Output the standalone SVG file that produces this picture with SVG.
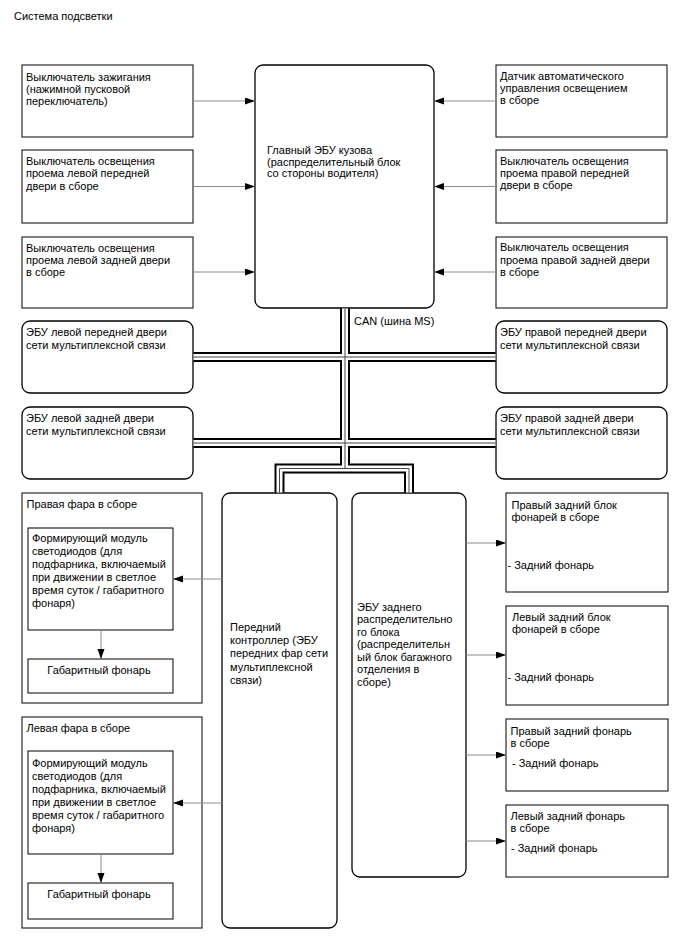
<svg xmlns="http://www.w3.org/2000/svg" width="688" height="949" viewBox="0 0 688 949">
<style>
text{font-family:"Liberation Sans",Arial,sans-serif;font-size:11px;fill:#000}
.box{fill:#fff;stroke:#000;stroke-width:1}
.rbox{fill:#fff;stroke:#000;stroke-width:1.3}
.arr{stroke:#8c8c8c;stroke-width:1;fill:none;marker-end:url(#ah)}
.bo{stroke:#000;stroke-width:10;fill:none}
.bi{stroke:#fff;stroke-width:6;fill:none}
.bc{stroke:#444;stroke-width:1;fill:none}
.c{text-anchor:middle}
</style>
<defs>
<marker id="ah" markerUnits="userSpaceOnUse" markerWidth="11" markerHeight="8" refX="10" refY="3.5" orient="auto">
<path d="M0,0 L10,3.5 L0,7 z" fill="#000"/>
</marker>
</defs>
<rect width="688" height="949" fill="#fff"/>
<text x="14" y="19.5">Система подсветки</text>

<g id="ignition-switch">
<rect class="box" x="22" y="65" width="171" height="72"/>
<text x="26" y="80.5">Выключатель зажигания</text>
<text x="26" y="92.5">(нажимной пусковой</text>
<text x="26" y="104.5">переключатель)</text>
</g>
<g id="lf-door-switch">
<rect class="box" x="22" y="150" width="171" height="73"/>
<text x="26" y="165">Выключатель освещения</text>
<text x="26" y="177.3">проема левой передней</text>
<text x="26" y="189.6">двери в сборе</text>
</g>
<g id="lr-door-switch">
<rect class="box" x="22" y="237" width="171" height="71"/>
<text x="26" y="251.5">Выключатель освещения</text>
<text x="26" y="263.8">проема левой задней двери</text>
<text x="26" y="276.1">в сборе</text>
</g>

<g id="main-body-ecu">
<rect class="rbox" x="255" y="65" width="179" height="243" rx="8"/>
<text x="267" y="154">Главный ЭБУ кузова</text>
<text x="267" y="165.7">(распределительный блок</text>
<text x="267" y="177.4">со стороны водителя)</text>
</g>

<g id="light-sensor">
<rect class="box" x="496" y="65" width="171" height="72"/>
<text x="500" y="79.7">Датчик автоматического</text>
<text x="500" y="92">управления освещением</text>
<text x="500" y="104.3">в сборе</text>
</g>
<g id="rf-door-switch">
<rect class="box" x="496" y="150" width="171" height="73"/>
<text x="500" y="164.7">Выключатель освещения</text>
<text x="500" y="177">проема правой передней</text>
<text x="500" y="189.3">двери в сборе</text>
</g>
<g id="rr-door-switch">
<rect class="box" x="496" y="237" width="171" height="71"/>
<text x="500" y="251.3">Выключатель освещения</text>
<text x="500" y="263.6">проема правой задней двери</text>
<text x="500" y="275.9">в сборе</text>
</g>

<g id="lf-door-ecu">
<rect class="rbox" x="22" y="321" width="171" height="72" rx="8"/>
<text x="26" y="335.5">ЭБУ левой передней двери</text>
<text x="26" y="348.5">сети мультиплексной связи</text>
</g>
<g id="rf-door-ecu">
<rect class="rbox" x="496" y="321" width="171" height="72" rx="8"/>
<text x="500" y="335.5">ЭБУ правой передней двери</text>
<text x="500" y="348.5">сети мультиплексной связи</text>
</g>
<g id="lr-door-ecu">
<rect class="rbox" x="22" y="407" width="171" height="72" rx="8"/>
<text x="26" y="421.5">ЭБУ левой задней двери</text>
<text x="26" y="434.5">сети мультиплексной связи</text>
</g>
<g id="rr-door-ecu">
<rect class="rbox" x="496" y="407" width="171" height="72" rx="8"/>
<text x="500" y="421.5">ЭБУ правой задней двери</text>
<text x="500" y="434.5">сети мультиплексной связи</text>
</g>

<g id="right-headlight">
<rect class="box" x="22" y="493" width="180" height="210"/>
<text x="26.5" y="508">Правая фара в сборе</text>
</g>
<g id="right-led-module">
<rect class="box" x="28" y="528" width="145" height="102"/>
<text x="32" y="542">Формирующий модуль</text>
<text x="32" y="555">светодиодов (для</text>
<text x="32" y="568">подфарника, включаемый</text>
<text x="32" y="581">при движении в светлое</text>
<text x="32" y="594">время суток / габаритного</text>
<text x="32" y="607">фонаря)</text>
</g>
<g id="right-clearance">
<rect class="box" x="28" y="659" width="145" height="34"/>
<text class="c" x="99" y="674">Габаритный фонарь</text>
</g>

<g id="left-headlight">
<rect class="box" x="22" y="717" width="180" height="211"/>
<text x="26.5" y="731.5">Левая фара в сборе</text>
</g>
<g id="left-led-module">
<rect class="box" x="28" y="751" width="145" height="103"/>
<text x="32" y="766.5">Формирующий модуль</text>
<text x="32" y="779.5">светодиодов (для</text>
<text x="32" y="792.5">подфарника, включаемый</text>
<text x="32" y="805.5">при движении в светлое</text>
<text x="32" y="818.5">время суток / габаритного</text>
<text x="32" y="831.5">фонаря)</text>
</g>
<g id="left-clearance">
<rect class="box" x="28" y="883" width="145" height="36"/>
<text class="c" x="99" y="898">Габаритный фонарь</text>
</g>

<g id="front-controller">
<rect class="rbox" x="222" y="493" width="115" height="435" rx="8"/>
<text x="230" y="630.7">Передний</text>
<text x="230" y="644">контроллер (ЭБУ</text>
<text x="230" y="657.3">передних фар сети</text>
<text x="230" y="670.6">мультиплексной</text>
<text x="230" y="683.9">связи)</text>
</g>

<g id="rear-ecu">
<rect class="rbox" x="352" y="493" width="114" height="384" rx="8"/>
<text x="357" y="610.7">ЭБУ заднего</text>
<text x="357" y="623.2">распределительно</text>
<text x="357" y="635.7">го блока</text>
<text x="357" y="648.2">(распределительн</text>
<text x="357" y="660.7">ый блок багажного</text>
<text x="357" y="673.2">отделения в</text>
<text x="357" y="685.7">сборе)</text>
</g>

<g id="rr-combo-lamp">
<rect class="box" x="506" y="493" width="162" height="99"/>
<text x="511.5" y="509">Правый задний блок</text>
<text x="511.5" y="521">фонарей в сборе</text>
<text x="507.5" y="569">- Задний фонарь</text>
</g>
<g id="lr-combo-lamp">
<rect class="box" x="506" y="606" width="162" height="99"/>
<text x="512" y="620.7">Левый задний блок</text>
<text x="512" y="633.3">фонарей в сборе</text>
<text x="507.5" y="680.7">- Задний фонарь</text>
</g>
<g id="r-tail-lamp">
<rect class="box" x="506" y="719" width="162" height="72"/>
<text x="510.5" y="734.7">Правый задний фонарь</text>
<text x="510.5" y="747">в сборе</text>
<text x="512" y="766.7">- Задний фонарь</text>
</g>
<g id="l-tail-lamp">
<rect class="box" x="506" y="805" width="162" height="72"/>
<text x="510.5" y="819.7">Левый задний фонарь</text>
<text x="510.5" y="832.3">в сборе</text>
<text x="511" y="852.3">- Задний фонарь</text>
</g>

<g id="connectors">
<g id="bus">
<path class="bo" d="M345,308.5 V468.5 M193.5,357 H495.5 M193.5,443 H495.5 M279.5,492.5 V468.5 H409 V492.5"/>
<path class="bi" d="M345,308.5 V468.5 M193.5,357 H495.5 M193.5,443 H495.5 M279.5,492.5 V468.5 H409 V492.5"/>
<path class="bc" d="M345,308.5 V468.5 M193.5,357 H495.5 M193.5,443 H495.5 M279.5,492.5 V468.5 H409 V492.5"/>
</g>
<line class="arr" x1="193" y1="101" x2="255" y2="101"/>
<line class="arr" x1="193" y1="186.5" x2="255" y2="186.5"/>
<line class="arr" x1="193" y1="272" x2="255" y2="272"/>
<line class="arr" x1="496" y1="101" x2="434" y2="101"/>
<line class="arr" x1="496" y1="186.5" x2="434" y2="186.5"/>
<line class="arr" x1="496" y1="272" x2="434" y2="272"/>
<line class="arr" x1="222" y1="579" x2="173" y2="579"/>
<line class="arr" x1="101" y1="630" x2="101" y2="659"/>
<line class="arr" x1="222" y1="803" x2="173" y2="803"/>
<line class="arr" x1="101" y1="854" x2="101" y2="883"/>
<line class="arr" x1="466" y1="543" x2="506" y2="543"/>
<line class="arr" x1="466" y1="655" x2="506" y2="655"/>
<line class="arr" x1="466" y1="755" x2="506" y2="755"/>
<line class="arr" x1="466" y1="841" x2="506" y2="841"/>
<text x="354" y="324.7">CAN (шина MS)</text>
</g>
</svg>
